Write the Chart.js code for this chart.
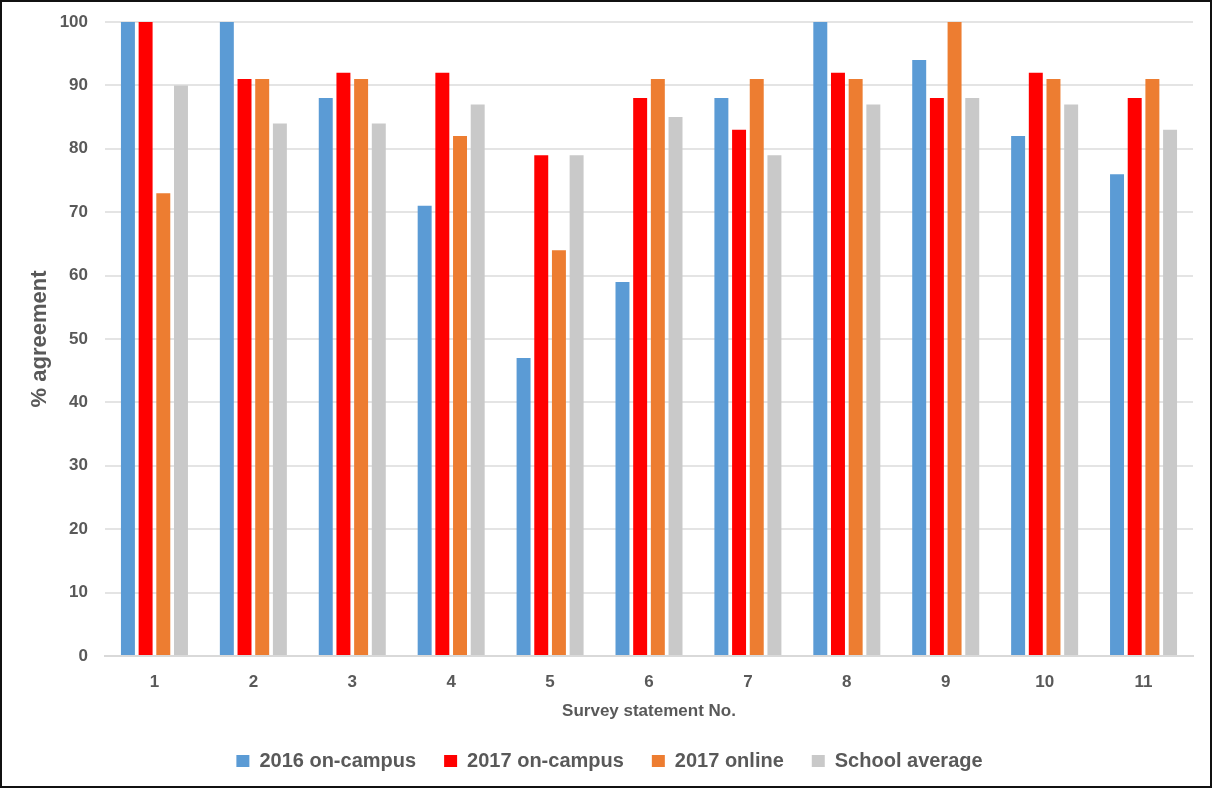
<!DOCTYPE html>
<html>
<head>
<meta charset="utf-8">
<script src="https://cdn.jsdelivr.net/npm/chart.js@4.4.1/dist/chart.umd.min.js"></script>
<style>
  html, body { margin: 0; padding: 0; background: #fff; }
  .frame { width: 1212px; height: 788px; box-sizing: border-box; border: 2px solid #111; }
  canvas { display: block; }
</style>
</head>
<body>
<div class="frame"><canvas id="chart" width="1208" height="784"></canvas></div>
<script>
// survey statements 1..11, % agreement per cohort
const statements = ['1', '2', '3', '4', '5', '6', '7', '8', '9', '10', '11'];
const onCampus2016 = [100, 100, 88, 71, 47, 59, 88, 100, 94, 82, 76];
const onCampus2017 = [100, 91, 92, 92, 79, 88, 83, 92, 88, 92, 88];
const online2017 = [73, 91, 91, 82, 64, 91, 91, 91, 100, 91, 91];
const schoolAverage = [90, 84, 84, 87, 79, 85, 79, 87, 88, 87, 83];
const yTicks = [0, 10, 20, 30, 40, 50, 60, 70, 80, 90, 100];

const TEXT = '#595959';
const FONT = '"Liberation Sans", Arial, sans-serif';

function series(label, data, color) {
  return { label, data, backgroundColor: color, borderWidth: 0 };
}

new Chart(document.getElementById('chart'), {
  type: 'bar',
  data: {
    labels: statements,
    datasets: [
      series('2016 on-campus', onCampus2016, '#5b9bd5'),
      series('2017 on-campus', onCampus2017, '#ff0000'),
      series('2017 online', online2017, '#ed7d31'),
      series('School average', schoolAverage, '#c9c9c9'),
    ],
  },
  options: {
    responsive: false,
    animation: false,
    categoryPercentage: 0.715,
    barPercentage: 0.79,
    // left padding nudges the centred legend right; y axis width shrinks to match
    layout: { padding: { top: 20, right: 17, bottom: 5, left: 24 } },
    plugins: {
      tooltip: { enabled: false },
      legend: {
        position: 'bottom',
        labels: {
          color: TEXT,
          font: { family: FONT, size: 20, weight: 'bold' },
          boxWidth: 13,
          boxHeight: 12,
          padding: 28,
        },
      },
    },
    scales: {
      x: {
        afterFit: (s) => { s.height = 67; },
        grid: { display: false, drawTicks: false },
        border: { display: true, color: '#d9d9d9', width: 2 },
        ticks: { color: TEXT, padding: 16, font: { family: FONT, size: 17, weight: 'bold' } },
        title: {
          display: true,
          text: 'Survey statement No.',
          color: TEXT,
          font: { family: FONT, size: 17, weight: 'bold' },
          padding: { top: 0, bottom: 1 },
        },
      },
      y: {
        min: 0,
        max: 100,
        afterFit: (s) => { s.width = 79; s.paddingTop = 0; s.paddingBottom = 0; },
        afterBuildTicks: (s) => { s.ticks = yTicks.map((v) => ({ value: v })); },
        grid: {
          drawTicks: false,
          color: (c) => (c.tick && c.tick.value === 0 ? '#d9d9d9' : '#e4e4e4'),
          lineWidth: 2,
        },
        border: { display: false },
        ticks: { color: TEXT, padding: 17, font: { family: FONT, size: 17, weight: 'bold' } },
        title: {
          display: true,
          text: '% agreement',
          color: TEXT,
          font: { family: FONT, size: 22, weight: 'bold' },
          padding: { top: 1, bottom: 0 },
        },
      },
    },
  },
});
</script>
</body>
</html>
